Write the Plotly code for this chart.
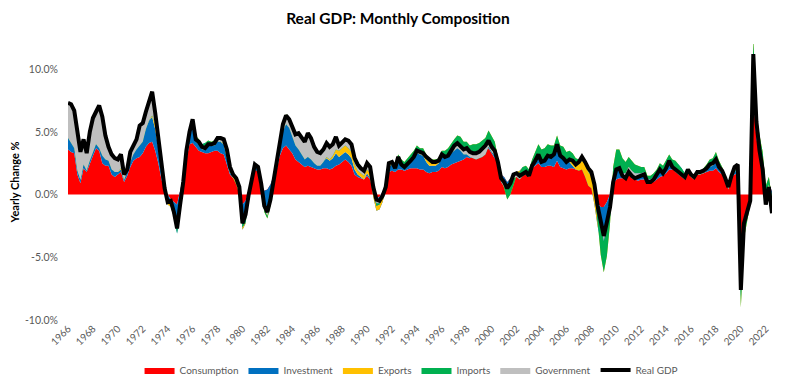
import pandas as pd
import plotly.graph_objects as go

# Quarterly sample dates (Apr 1966 .. Oct 2022)
dates = pd.date_range("1966-04-01", "2022-10-01", freq="QS-JAN")

real_gdp = [
    7.3, 7.2, 6.7,
    5.2, 3.4, 4.4, 3.3,  5.0, 6.1, 6.6, 7.1,  6.2, 4.7, 3.8, 3.2,  2.9, 2.8, 3.2, 1.6,
    2.0, 3.4, 3.9, 4.4,  5.5, 5.7, 6.6, 7.4,  8.2, 6.5, 4.5, 2.5,  0.5, -0.6, -0.5, -1.4,
    -2.7, -0.8, 1.0, 3.5,  5.0, 6.0, 4.4, 4.2,  3.8, 3.7, 4.0, 4.0,  4.1, 4.5, 4.5, 4.4,
    3.6, 2.2, 1.6, 1.3,  0.6, -2.3, -1.6, 0.0,  1.4, 2.4, 2.2, 0.9,  -0.9, -1.4, -0.4, 1.2,
    2.5, 4.5, 5.6, 6.3,  6.0, 5.4, 4.8, 4.9,  4.5, 4.2, 4.9, 4.5,  3.8, 3.4, 3.3, 3.6,
    4.1, 3.8, 4.0, 4.6,  3.9, 4.2, 4.4, 4.3,  4.0, 2.9, 2.4, 2.1,  1.9, 2.5, 2.2, 0.6,
    -0.4, -0.5, -0.1, 0.6,  2.5, 2.6, 2.1, 3.0,  2.4, 2.2, 2.4, 2.7,  3.0, 3.5, 3.4, 3.3,
    3.0, 2.8, 2.6, 2.6,  2.7, 3.2, 3.0, 3.1,  3.5, 3.9, 4.1, 3.8,  3.6, 3.7, 3.4, 3.3,
    3.3, 3.4, 3.6, 3.9,  4.3, 3.8, 3.5, 2.6,  1.3, 1.0, 0.5, 0.9,  1.6, 1.7, 1.5, 1.7,
    1.8, 1.5, 2.3, 2.7,  3.2, 2.6, 2.7, 3.1,  3.0, 3.2, 4.0, 3.1,  2.9, 2.6, 2.8, 2.7,
    2.4, 2.6, 3.0, 2.6,  2.1, 1.8, 0.8, -0.9,  -2.0, -3.3, -2.2, -1.0,  1.0, 2.0, 2.1, 1.5,
    1.3, 1.8, 1.5, 1.3,  1.4, 1.5, 1.6, 1.0,  1.0, 1.2, 1.6, 2.0,  1.7, 2.1, 2.7, 2.2,
    2.0, 1.8, 1.6, 1.4,  2.0, 1.6, 1.4, 1.8,  1.8, 1.9, 2.1, 2.4,  2.5, 2.8, 2.2, 1.9,
    1.3, 0.6, 1.5, 2.2,  2.4, -7.6, -2.3, -1.3,  -0.5, 11.2, 5.8, 3.5,  2.0, -0.8, 0.6, -1.5,
]

consumption = [
    3.6, 3.4, 3.3,
    1.6, 0.9, 2.1, 1.8,  2.5, 3.1, 3.7, 3.5,  2.5, 2.3, 2.3, 1.6,  1.4, 1.6, 1.8, 1.0,
    1.5, 2.2, 2.7, 2.9,  3.0, 3.3, 3.8, 4.1,  4.2, 3.5, 2.5, 1.2,  0.4, 0.0, -0.4, -0.6,
    -0.8, 0.3, 1.5, 3.0,  4.0, 4.1, 3.8, 3.5,  3.4, 3.3, 3.3, 3.4,  3.5, 3.5, 3.3, 3.2,
    2.4, 1.6, 1.3, 1.1,  0.4, -0.8, -0.5, 0.3,  1.0, 2.0, 1.8, 0.8,  0.3, 0.4, 0.8, 1.5,
    2.0, 3.1, 3.7, 3.9,  3.6, 3.3, 2.8, 2.6,  2.4, 2.2, 2.3, 2.2,  2.1, 2.0, 2.0, 2.1,
    2.1, 2.0, 2.1, 2.3,  2.4, 2.6, 2.8, 2.6,  2.3, 1.6, 1.4, 1.3,  1.2, 1.5, 1.2, 0.4,
    -0.3, -0.2, 0.2, 0.7,  1.8, 1.9, 1.8, 2.0,  2.0, 1.9, 2.0, 2.1,  2.1, 2.1, 2.0, 2.0,
    1.8, 1.7, 1.8, 1.8,  1.9, 2.2, 2.1, 2.2,  2.4, 2.5, 2.6, 2.7,  2.8, 3.0, 2.9, 3.1,
    3.2, 3.3, 3.4, 3.5,  3.7, 3.3, 3.0, 2.5,  1.6, 1.4, 1.0, 1.3,  1.6, 1.8, 1.8, 1.9,
    1.9, 1.7, 2.1, 2.3,  2.5, 2.2, 2.2, 2.3,  2.3, 2.2, 2.7, 2.2,  2.1, 2.0, 2.1, 2.1,
    2.0, 2.0, 2.1, 1.7,  1.2, 0.8, 0.0, -0.7,  -1.0, -1.0, -0.6, 0.0,  0.8, 1.2, 1.3, 1.3,
    1.4, 1.6, 1.3, 1.2,  1.1, 1.2, 1.2, 1.0,  1.0, 1.0, 1.2, 1.4,  1.5, 1.7, 2.0, 2.0,
    2.2, 2.1, 1.9, 1.7,  1.8, 1.6, 1.5, 1.7,  1.7, 1.7, 1.8, 1.9,  1.9, 2.1, 1.8, 1.6,
    1.2, 0.8, 1.4, 1.6,  1.7, -6.0, -1.8, -1.2,  -0.6, 7.8, 4.5, 3.0,  1.8, 0.6, 1.0, 0.2,
]

investment = [
    1.0, 0.9, 0.6,
    0.4, 0.3, 0.4, 0.3,  0.4, 0.5, 0.5, 0.4,  0.8, 0.6, 0.5, 0.5,  0.4, 0.2, 0.2, 0.2,
    0.4, 0.6, 0.7, 0.9,  1.1, 1.1, 1.5, 1.8,  2.0, 1.7, 1.2, 0.6,  -0.2, -0.8, -0.6, -1.2,
    -2.3, -1.8, -1.0, 0.3,  1.0, 1.7, 0.8, 0.8,  0.6, 0.8, 0.9, 0.7,  0.6, 0.8, 0.9, 0.8,
    0.6, 0.2, 0.0, -0.3,  -0.4, -2.0, -1.8, -0.7,  0.2, 0.5, 0.4, -0.2,  -1.5, -2.0, -1.3, -0.3,
    0.6, 1.4, 2.0, 2.4,  2.3, 1.8, 1.4, 1.2,  0.9, 0.8, 0.9, 0.8,  0.6, 0.5, 0.5, 0.6,
    0.8, 0.7, 0.8, 1.0,  0.6, 0.6, 0.6, 0.6,  0.6, 0.4, 0.2, 0.1,  0.0, 0.2, 0.1, -0.6,
    -1.0, -1.0, -0.8, -0.3,  0.4, 0.5, 0.4, 0.9,  0.6, 0.6, 0.8, 0.9,  1.1, 1.3, 1.2, 1.1,
    0.8, 0.6, 0.5, 0.5,  0.6, 0.8, 0.9, 0.9,  1.0, 1.1, 1.2, 1.1,  1.0, 1.0, 0.9, 0.7,
    0.6, 0.5, 0.5, 0.5,  0.8, 0.7, 0.6, 0.1,  -0.5, -0.7, -0.6, -0.6,  -0.3, 0.0, 0.1, 0.3,
    0.3, 0.2, 0.6, 0.8,  1.1, 0.9, 1.0, 1.2,  1.0, 1.0, 1.3, 1.0,  0.9, 0.6, 0.5, 0.2,
    0.0, -0.1, -0.1, -0.3,  -0.5, -0.3, -0.8, -1.8,  -2.8, -3.5, -3.0, -1.8,  0.6, 1.3, 1.2, 0.6,
    0.3, 0.6, 0.6, 0.6,  0.7, 0.6, 0.6, 0.3,  0.3, 0.4, 0.5, 0.6,  0.4, 0.5, 0.7, 0.4,
    0.4, 0.3, 0.2, 0.0,  0.1, -0.1, -0.1, 0.0,  0.1, 0.2, 0.3, 0.5,  0.6, 0.8, 0.6, 0.5,
    0.3, 0.0, 0.1, 0.2,  0.3, -2.2, -0.8, -0.2,  0.3, 3.0, 1.4, 1.3,  1.2, -0.4, -0.4, -1.0,
]

exports = [
    0.2, 0.1, 0.2,
    0.1, 0.1, 0.0, 0.0,  0.1, 0.1, 0.2, 0.2,  0.1, 0.1, 0.1, 0.1,  0.1, 0.1, 0.2, 0.1,
    0.0, 0.0, 0.0, 0.0,  0.1, 0.1, 0.2, 0.3,  0.4, 0.5, 0.6, 0.6,  0.5, 0.3, 0.2, 0.1,
    0.0, 0.0, 0.0, 0.0,  0.1, 0.2, 0.1, 0.1,  0.0, 0.0, 0.1, 0.1,  0.2, 0.3, 0.3, 0.3,
    0.3, 0.3, 0.3, 0.3,  0.3, 0.2, 0.1, 0.0,  0.0, 0.0, 0.0, -0.1,  -0.2, -0.3, -0.4, -0.4,
    -0.3, -0.1, 0.0, 0.1,  0.2, 0.2, 0.2, 0.1,  0.1, 0.0, 0.0, 0.0,  0.1, 0.1, 0.1, 0.2,
    0.3, 0.3, 0.4, 0.5,  0.6, 0.6, 0.7, 0.7,  0.7, 0.6, 0.5, 0.5,  0.5, 0.5, 0.5, 0.5,
    0.4, 0.4, 0.4, 0.4,  0.4, 0.3, 0.3, 0.3,  0.2, 0.1, 0.1, 0.2,  0.3, 0.5, 0.5, 0.6,
    0.6, 0.6, 0.5, 0.5,  0.4, 0.5, 0.5, 0.6,  0.7, 0.8, 0.9, 0.8,  0.4, 0.2, 0.1, 0.2,
    0.2, 0.3, 0.4, 0.5,  0.6, 0.6, 0.6, 0.4,  0.1, -0.2, -0.8, -0.7,  -0.5, -0.3, -0.1, 0.0,
    0.1, 0.1, 0.1, 0.3,  0.4, 0.5, 0.5, 0.5,  0.6, 0.7, 0.7, 0.7,  0.8, 0.8, 0.9, 1.0,
    0.9, 0.9, 1.0, 1.1,  1.1, 1.0, 1.0, 0.4,  -1.0, -1.7, -1.3, -0.5,  0.8, 1.1, 1.1, 1.0,
    0.9, 0.8, 0.8, 0.6,  0.5, 0.4, 0.4, 0.2,  0.2, 0.3, 0.3, 0.5,  0.4, 0.5, 0.5, 0.4,
    0.1, 0.0, 0.0, 0.0,  0.0, 0.0, 0.0, 0.1,  0.1, 0.2, 0.3, 0.4,  0.4, 0.5, 0.3, 0.1,
    0.0, -0.1, -0.1, 0.0,  0.0, -0.8, -0.9, -0.7,  -0.5, 1.7, 0.6, 0.4,  0.4, 0.5, 0.8, 0.5,
]

imports = [
    -0.3, -0.3, -0.4,
    -0.2, -0.1, -0.1, -0.2,  -0.3, -0.3, -0.4, -0.4,  -0.3, -0.2, -0.2, -0.2,  -0.1, -0.1, -0.1, -0.1,
    -0.1, -0.2, -0.2, -0.2,  -0.3, -0.3, -0.3, -0.3,  -0.3, -0.1, 0.0, 0.0,  0.0, 0.1, 0.2, 0.3,
    0.5, 0.6, 0.4, 0.1,  -0.3, -0.4, -0.5, -0.4,  -0.4, -0.5, -0.4, -0.3,  -0.4, -0.4, -0.3, -0.2,
    -0.1, 0.0, 0.0, 0.1,  0.2, 0.4, 0.5, 0.2,  0.0, -0.2, -0.2, 0.0,  0.2, 0.2, 0.2, 0.0,
    -0.2, -0.5, -0.7, -0.8,  -0.8, -0.7, -0.5, -0.3,  -0.2, -0.2, -0.2, -0.2,  -0.3, -0.3, -0.3, -0.3,
    -0.2, -0.2, -0.2, -0.2,  -0.1, -0.1, -0.2, -0.2,  -0.2, -0.2, -0.2, -0.2,  -0.2, -0.2, -0.1, 0.1,
    0.2, 0.1, 0.0, -0.1,  -0.2, -0.3, -0.4, -0.4,  -0.4, -0.5, -0.5, -0.5,  -0.6, -0.6, -0.5, -0.6,
    -0.4, -0.3, -0.3, -0.3,  -0.3, -0.5, -0.6, -0.7,  -0.8, -0.9, -1.0, -1.1,  -1.0, -1.0, -0.9, -1.1,
    -1.2, -1.2, -1.3, -1.3,  -1.3, -1.2, -1.1, -0.7,  -0.2, 0.1, 0.9, 0.8,  0.5, -0.1, -0.6, -0.7,
    -0.7, -0.6, -0.6, -0.8,  -0.9, -1.1, -1.1, -1.0,  -1.0, -0.8, -0.8, -0.9,  -1.0, -0.9, -0.8, -0.7,
    -0.6, -0.4, -0.3, 0.0,  0.1, 0.1, 0.4, 1.0,  2.5, 2.5, 2.4, 1.1,  -1.3, -1.7, -1.5, -1.2,
    -0.9, -0.8, -0.8, -0.7,  -0.6, -0.5, -0.4, -0.3,  -0.3, -0.3, -0.3, -0.4,  -0.6, -0.7, -0.6, -0.7,
    -0.9, -0.8, -0.7, -0.5,  -0.1, -0.1, -0.2, -0.2,  -0.3, -0.4, -0.5, -0.6,  -0.6, -0.8, -0.7, -0.5,
    -0.4, -0.3, -0.1, 0.1,  0.1, 2.0, 1.2, 0.6,  0.1, -1.6, -1.0, -1.3,  -1.5, -1.3, -0.6, -1.0,
]

government = [
    2.8, 3.1, 3.0,
    3.3, 2.2, 2.0, 1.4,  2.3, 2.7, 2.6, 3.4,  3.1, 1.9, 1.1, 1.2,  1.1, 1.0, 1.1, 0.4,
    0.2, 0.8, 0.7, 0.8,  1.6, 1.5, 1.4, 1.5,  1.9, 0.9, 0.2, 0.1,  -0.2, -0.2, 0.1, 0.0,
    -0.1, 0.1, 0.1, 0.1,  0.2, 0.4, 0.2, 0.2,  0.2, 0.1, 0.1, 0.1,  0.2, 0.3, 0.3, 0.3,
    0.4, 0.1, 0.0, 0.1,  0.1, -0.1, 0.1, 0.2,  0.2, 0.1, 0.2, 0.4,  0.3, 0.3, 0.3, 0.4,
    0.4, 0.6, 0.6, 0.7,  0.7, 0.8, 0.9, 1.3,  1.3, 1.4, 1.9, 1.7,  1.3, 1.1, 1.0, 1.0,
    1.1, 1.0, 0.9, 1.0,  0.4, 0.5, 0.5, 0.6,  0.6, 0.5, 0.5, 0.4,  0.4, 0.5, 0.5, 0.2,
    0.3, 0.2, 0.1, -0.1,  0.1, 0.2, 0.0, 0.2,  0.0, 0.1, 0.0, 0.0,  0.1, 0.2, 0.2, 0.2,
    0.2, 0.2, 0.1, 0.1,  0.1, 0.2, 0.1, 0.1,  0.2, 0.4, 0.4, 0.3,  0.4, 0.5, 0.4, 0.4,
    0.5, 0.5, 0.6, 0.7,  0.5, 0.4, 0.4, 0.3,  0.3, 0.4, 0.0, 0.1,  0.3, 0.3, 0.3, 0.2,
    0.2, 0.1, 0.1, 0.1,  0.1, 0.1, 0.1, 0.1,  0.1, 0.1, 0.1, 0.1,  0.1, 0.1, 0.1, 0.1,
    0.1, 0.2, 0.3, 0.1,  0.2, 0.2, 0.2, 0.2,  0.3, 0.4, 0.3, 0.2,  0.1, 0.1, 0.0, -0.2,
    -0.4, -0.4, -0.4, -0.4,  -0.3, -0.2, -0.2, -0.2,  -0.2, -0.2, -0.1, -0.1,  0.0, 0.1, 0.1, 0.1,
    0.2, 0.2, 0.2, 0.2,  0.2, 0.2, 0.2, 0.2,  0.2, 0.2, 0.2, 0.2,  0.2, 0.2, 0.2, 0.2,
    0.2, 0.2, 0.2, 0.3,  0.3, -0.6, 0.0, 0.2,  0.2, 0.3, 0.3, 0.1,  0.1, -0.2, -0.2, -0.2,
]

components = [
    ("Consumption", consumption, "#FF0000"),
    ("Investment", investment, "#0070C0"),
    ("Exports", exports, "#FFC000"),
    ("Imports", imports, "#00B050"),
    ("Government", government, "#BFBFBF"),
]

tick_years = list(range(1966, 2023, 2))
tick_vals = [f"{y}-04-01" for y in tick_years]
tick_text = [str(y) for y in tick_years]

y_tick_vals = [-10, -5, 0, 5, 10]
y_tick_text = ["-10.0%", "-5.0%", "0.0%", "5.0%", "10.0%"]

FONT = "Lato"
GREY = "#595959"

fig = go.Figure()
for name, vals, color in components:
    fig.add_trace(go.Scatter(
        x=dates, y=vals, name=name, mode="lines",
        stackgroup="comp", line=dict(width=0, color=color),
        fillcolor=color, hoverinfo="skip",
    ))

fig.add_trace(go.Scatter(
    x=dates, y=real_gdp, name="Real GDP", mode="lines",
    line=dict(color="#000000", width=4), hoverinfo="skip",
))

# The page body adds an 8px offset, so the figure is 8px smaller on each axis
fig.update_layout(
    width=783, height=376,
    paper_bgcolor="white", plot_bgcolor="white",
    margin=dict(l=60, r=19, t=36, b=64, autoexpand=False),
    title=dict(text="<b>Real GDP: Monthly Composition</b>",
               x=0.498, xanchor="center", y=0.973, yanchor="middle",
               font=dict(family=FONT, size=15.5, color="#000000")),
    showlegend=True,
    legend=dict(orientation="h", x=0.488, xanchor="center",
                y=-0.181, yanchor="middle", traceorder="normal",
                font=dict(family=FONT, size=10, color=GREY),
                itemwidth=30),
    font=dict(family=FONT, color=GREY),
)

fig.update_xaxes(
    type="date", range=["1966-04-01", "2022-10-01"], automargin=False,
    tickvals=tick_vals, ticktext=tick_text, tickangle=-45,
    tickfont=dict(family=FONT, size=10, color=GREY),
    showgrid=False, zeroline=False, showline=False, ticks="",
)

fig.update_yaxes(
    range=[-10, 12], tickvals=y_tick_vals, ticktext=y_tick_text, automargin=False,
    tickfont=dict(family=FONT, size=10.5, color=GREY),
    showgrid=False, zeroline=False, showline=False, ticks="",
    ticklabelstandoff=9,
    title=dict(text="<b>Yearly Change %</b>", standoff=8,
               font=dict(family=FONT, size=11, color="#000000")),
)

fig.write_html("out.html")
